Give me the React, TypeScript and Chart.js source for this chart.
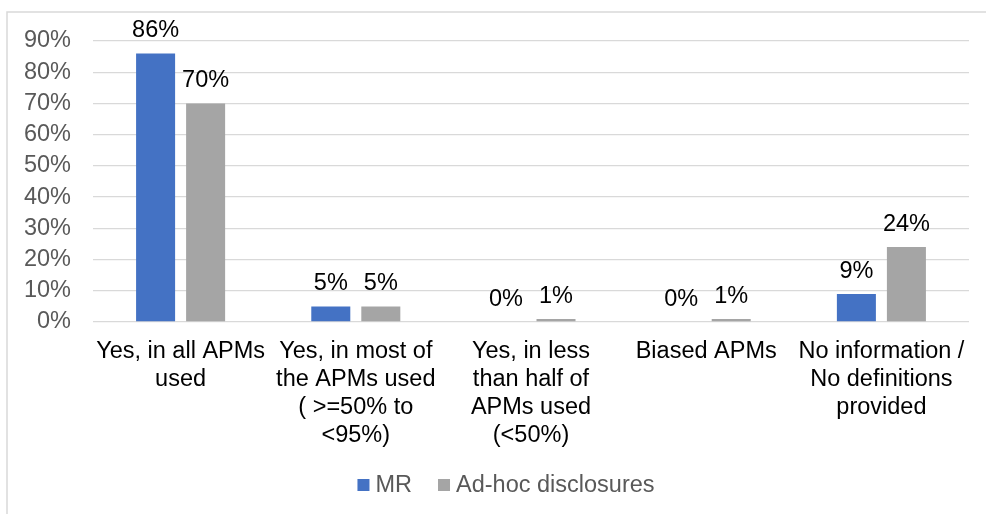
import { useEffect, useRef } from "react";
import { Chart, registerables } from "chart.js";

Chart.register(...registerables);

const categories: string[][] = [
  ["Yes, in all APMs", "used"],
  ["Yes, in most of", "the APMs used", "( >=50% to", "<95%)"],
  ["Yes, in less", "than half of", "APMs used", "(<50%)"],
  ["Biased APMs"],
  ["No information /", "No definitions", "provided"],
];
const seriesNames = ["MR", "Ad-hoc disclosures"];
const mrValues = [86, 5, 0, 0, 9];
const adhocValues = [70, 5, 1, 1, 24];
const yMax = 90;
const yStep = 10;

const FONT = "'Liberation Sans', Arial, sans-serif";
const FSIZE = 23.5;
const COLORS = ["#4472C4", "#A5A5A5"];

const framePlugin = {
  id: "frame",
  beforeDraw(chart: any) {
    const ctx = chart.ctx;
    ctx.save();
    ctx.strokeStyle = "#d9d9d9";
    ctx.lineWidth = 1.5;
    ctx.beginPath();
    ctx.moveTo(7, chart.height);
    ctx.lineTo(7, 12);
    ctx.lineTo(chart.width, 12);
    ctx.stroke();
    ctx.restore();
  },
};

const dataLabelPlugin = {
  id: "dataLabels",
  afterDatasetsDraw(chart: any) {
    const ctx = chart.ctx;
    ctx.save();
    ctx.font = `${FSIZE}px ${FONT}`;
    ctx.fillStyle = "#000000";
    ctx.textAlign = "center";
    ctx.textBaseline = "alphabetic";
    chart.data.datasets.forEach((ds: any, i: number) => {
      const meta = chart.getDatasetMeta(i);
      meta.data.forEach((bar: any, j: number) => {
        ctx.fillText(`${ds.data[j]}%`, bar.x, bar.y - 16);
      });
    });
    ctx.restore();
  },
};

const legendPlugin = {
  id: "customLegend",
  afterDraw(chart: any) {
    const ctx = chart.ctx;
    ctx.save();
    ctx.font = `${FSIZE}px ${FONT}`;
    ctx.textBaseline = "middle";
    ctx.textAlign = "left";
    const box = 12;
    const gapText = 6;
    const gapItem = 26;
    const widths = chart.data.datasets.map((d: any) => ctx.measureText(d.label).width);
    let total = 0;
    widths.forEach((w: number, i: number) => {
      total += box + gapText + w + (i < widths.length - 1 ? gapItem : 0);
    });
    const cx = 506;
    const cy = 485;
    let x = cx - total / 2;
    chart.data.datasets.forEach((d: any, i: number) => {
      ctx.fillStyle = d.backgroundColor;
      ctx.fillRect(x, cy - box / 2, box, box);
      x += box + gapText;
      ctx.fillStyle = "#595959";
      ctx.fillText(d.label, x, cy + 1);
      x += widths[i] + gapItem;
    });
    ctx.restore();
  },
};

export default function App() {
  const ref = useRef<HTMLCanvasElement | null>(null);
  useEffect(() => {
    if (!ref.current) return;
    const chart = new Chart(ref.current, {
      type: "bar",
      data: {
        labels: categories as any,
        datasets: [
          {
            label: seriesNames[0],
            data: mrValues,
            backgroundColor: COLORS[0],
            categoryPercentage: 0.571,
            barPercentage: 0.78,
          },
          {
            label: seriesNames[1],
            data: adhocValues,
            backgroundColor: COLORS[1],
            categoryPercentage: 0.571,
            barPercentage: 0.78,
          },
        ],
      },
      options: {
        responsive: false,
        animation: false,
        layout: { padding: { left: 0, right: 17, top: 41, bottom: 0 } },
        plugins: {
          legend: { display: false },
          tooltip: { enabled: false },
        },
        scales: {
          x: {
            grid: { display: false, drawTicks: false },
            border: { display: false },
            ticks: {
              color: "#000000",
              font: { family: FONT, size: FSIZE, lineHeight: 1.2 },
              padding: 15,
              autoSkip: false,
              maxRotation: 0,
              minRotation: 0,
            },
            afterFit(scale: any) {
              scale.height = 192;
            },
          },
          y: {
            min: 0,
            max: yMax,
            grid: { color: "#d9d9d9", lineWidth: 1.3, drawTicks: false },
            border: { display: false },
            ticks: {
              stepSize: yStep,
              color: "#595959",
              font: { family: FONT, size: FSIZE },
              padding: 22,
              callback: (v: any) => `${v}%`,
            },
            afterFit(scale: any) {
              scale.width = 93;
            },
          },
        },
      },
      plugins: [framePlugin, dataLabelPlugin, legendPlugin],
    });
    return () => chart.destroy();
  }, []);
  return (
    <div style={{ position: "absolute", left: 0, top: 0, width: 986, height: 514, background: "#fff" }}>
      <canvas ref={ref} width={986} height={514} />
    </div>
  );
}
